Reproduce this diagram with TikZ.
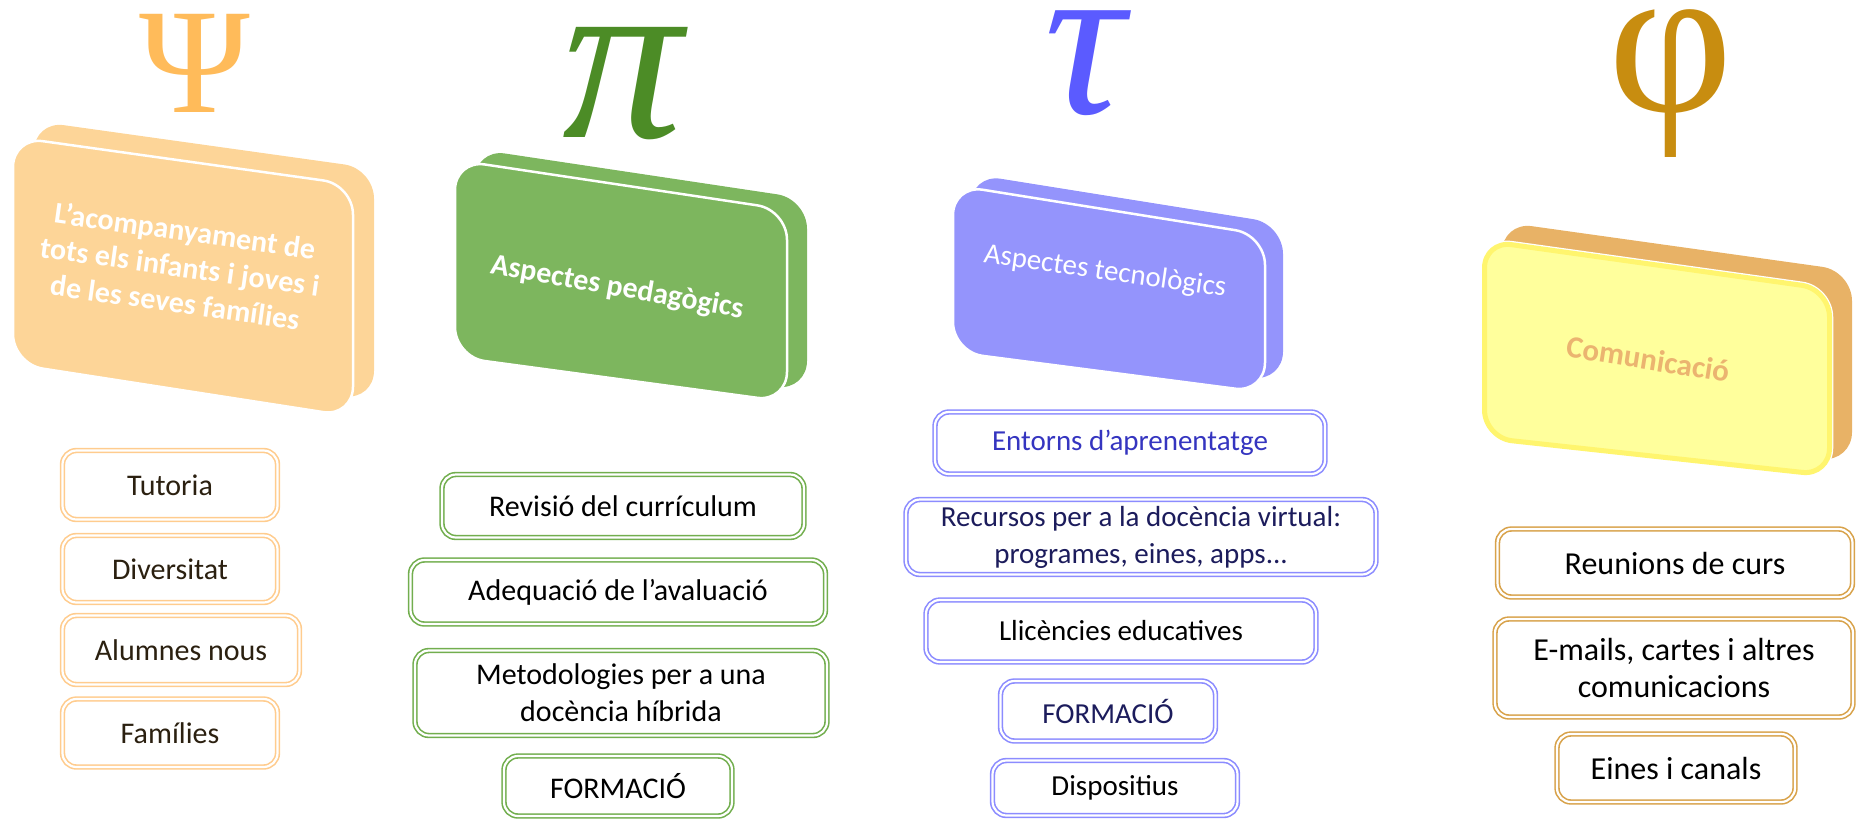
\documentclass[tikz,border=0pt]{standalone}
\usepackage{fontspec}
\setmainfont{Carlito}
\newfontfamily\greekfont{Liberation Serif}

\definecolor{psicol}{HTML}{FFBB5A}
\definecolor{psislab}{HTML}{FDD598}
\definecolor{psiline}{HTML}{FFCC8E}
\definecolor{pitext}{HTML}{2B2010}
\definecolor{picol}{HTML}{4C8C26}
\definecolor{pislab}{HTML}{7DB65E}
\definecolor{piline}{HTML}{72AE4E}
\definecolor{taucol}{HTML}{5B5BFF}
\definecolor{tauslab}{HTML}{9494FC}
\definecolor{tauline}{HTML}{8C8CFF}
\definecolor{taublue}{HTML}{3535C0}
\definecolor{taunavy}{HTML}{1C1C5C}
\definecolor{phicol}{HTML}{C88D10}
\definecolor{phislab}{HTML}{FFFF9C}
\definecolor{phirim}{HTML}{FFF56E}
\definecolor{phiback}{HTML}{E8B266}
\definecolor{phitext}{HTML}{EBB470}
\definecolor{philine}{HTML}{D8A24A}

\begin{document}
\begin{tikzpicture}[x=1pt, y=-1pt]

\newcommand{\slabshape}[4]{(0,0) -- (#1,{#1*#3}) -- (#1,{#2+#1*#4}) -- (0,#2) -- cycle}
\tikzstyle{slabback} = [rounded corners=30pt]
\tikzstyle{slabfront} = [rounded corners=30pt, draw=white, line width=2.5pt]
\tikzstyle{slabtext} = [text=white, align=center, font=\bfseries\fontsize{30}{36}\selectfont]
\tikzstyle{greek} = [anchor=center, inner sep=0pt]
\tikzstyle{item} = [rounded corners=14pt, line width=1.6pt, double=white, double distance=2.2pt,
  fill=white, align=center, inner sep=0pt, font=\fontsize{30}{37}\selectfont]
\tikzstyle{psiitem} = [item, draw=psiline, text=pitext]
\tikzstyle{piitem} = [item, draw=piline, text=black]
\tikzstyle{tauitem} = [item, draw=tauline, text=black]
\tikzstyle{phiitem} = [item, draw=philine, text=black, font=\fontsize{32}{37}\selectfont]

\useasboundingbox (0,0) rectangle (1858,820);

% acompanyament
\node (psi) [greek, text=psicol, font=\greekfont\fontsize{150}{150}\selectfont, at={(195,63)}] {Ψ};
\begin{scope}[shift={(13,137)}]
  \fill[slabback, fill=psislab, shift={(21,-16)}] \slabshape{340}{227}{0.14}{0.155};
  \filldraw[slabfront, fill=psislab] \slabshape{340}{227}{0.14}{0.155};
\end{scope}
\node (acomp) [slabtext, rotate=-8, at={(180,266)}] {L’acompanyament de\\tots els infants i joves i\\de les seves famílies};

\node (tutoria) [psiitem, minimum width=215pt, minimum height=69pt, at={(170,485)}] {Tutoria};
\node (diversitat) [psiitem, minimum width=215pt, minimum height=67pt, at={(170,569)}] {Diversitat};
\node (alumnes) [psiitem, minimum width=237pt, minimum height=69pt, at={(181,650)}] {Alumnes nous};
\node (families) [psiitem, minimum width=215pt, minimum height=68pt, at={(170,733)}] {Famílies};

% pedagogia
\node (pi) [greek, text=picol, font=\greekfont\itshape\fontsize{240}{240}\selectfont, at={(623,84)}] {π};
\begin{scope}[shift={(455,160)}]
  \fill[slabback, fill=pislab, shift={(20,-11)}] \slabshape{332}{197}{0.15}{0.135};
  \filldraw[slabfront, fill=pislab] \slabshape{332}{197}{0.15}{0.135};
\end{scope}
\node (pedagogics) [slabtext, rotate=-10, at={(617,288)}] {Aspectes pedagògics};

\node (revisio) [piitem, minimum width=362pt, minimum height=63pt, at={(623,506)}] {Revisió del currículum};
\node (adequacio) [piitem, minimum width=415pt, minimum height=64pt, at={(618,592)}] {Adequació de l’avaluació};
\node (metodologies) [piitem, minimum width=412pt, minimum height=85pt, at={(621,693)}] {Metodologies per a una\\docència híbrida};
\node (formaciopd) [piitem, minimum width=228pt, minimum height=60pt, at={(618,786)}] {FORMACIÓ};

% tecnologia
\node (tau) [greek, text=taucol, font=\greekfont\itshape\fontsize{224}{224}\selectfont, at={(1085,63)}] {τ};
\begin{scope}[shift={(953,185)}]
  \fill[slabback, fill=tauslab, shift={(18,-11)}] \slabshape{312}{167}{0.16}{0.13};
  \filldraw[slabfront, fill=tauslab] \slabshape{312}{167}{0.16}{0.13};
\end{scope}
\node (tecnologics) [slabtext, font=\fontsize{29}{36}\selectfont, rotate=-8, at={(1105,272)}] {Aspectes tecnològics};

\node (entorns) [tauitem, text=taublue, font=\fontsize{29}{37}\selectfont, minimum width=390pt, minimum height=62pt, at={(1130,443)}] {Entorns d’aprenentatge};
\node (recursos) [tauitem, text=taunavy, font=\fontsize{29}{37}\selectfont, minimum width=470pt, minimum height=75pt, at={(1141,537)}] {Recursos per a la docència virtual:\\programes, eines, apps...};
\node (llicencies) [tauitem, font=\fontsize{29}{37}\selectfont, minimum width=390pt, minimum height=62pt, at={(1121,631)}] {Llicències educatives};
\node (formaciotc) [tauitem, text=taunavy, font=\fontsize{29}{37}\selectfont, minimum width=215pt, minimum height=60pt, at={(1108,711)}] {FORMACIÓ};
\node (dispositius) [tauitem, font=\fontsize{29}{37}\selectfont, minimum width=245pt, minimum height=55pt, at={(1115,788)}] {Dispositius};

% comunicacio
\node (phi) [greek, text=phicol, font=\greekfont\fontsize{216}{216}\selectfont, at={(1671,84)}] {φ};
\begin{scope}[shift={(1482,238)}]
  \fill[slabback, fill=phiback, shift={(20,-16)}] \slabshape{350}{202}{0.14}{0.109};
  \filldraw[slabfront, fill=phislab] \slabshape{350}{202}{0.14}{0.109};
  \begin{scope}
    \clip[slabback] \slabshape{350}{202}{0.14}{0.109};
    \draw[slabback, draw=phirim, line width=10pt] \slabshape{350}{202}{0.14}{0.109};
  \end{scope}
\end{scope}
\node (comunicacio) [slabtext, text=phitext, font=\bfseries\fontsize{31}{36}\selectfont, rotate=-9, at={(1648,359)}] {Comunicació};

\node (reunions) [phiitem, minimum width=355pt, minimum height=68pt, at={(1675,563)}] {Reunions de curs};
\node (emails) [phiitem, minimum width=358pt, minimum height=98pt, at={(1674,668)}] {E-mails, cartes i altres\\comunicacions};
\node (eines) [phiitem, minimum width=238pt, minimum height=68pt, at={(1676,768)}] {Eines i canals};

\end{tikzpicture}
\end{document}
